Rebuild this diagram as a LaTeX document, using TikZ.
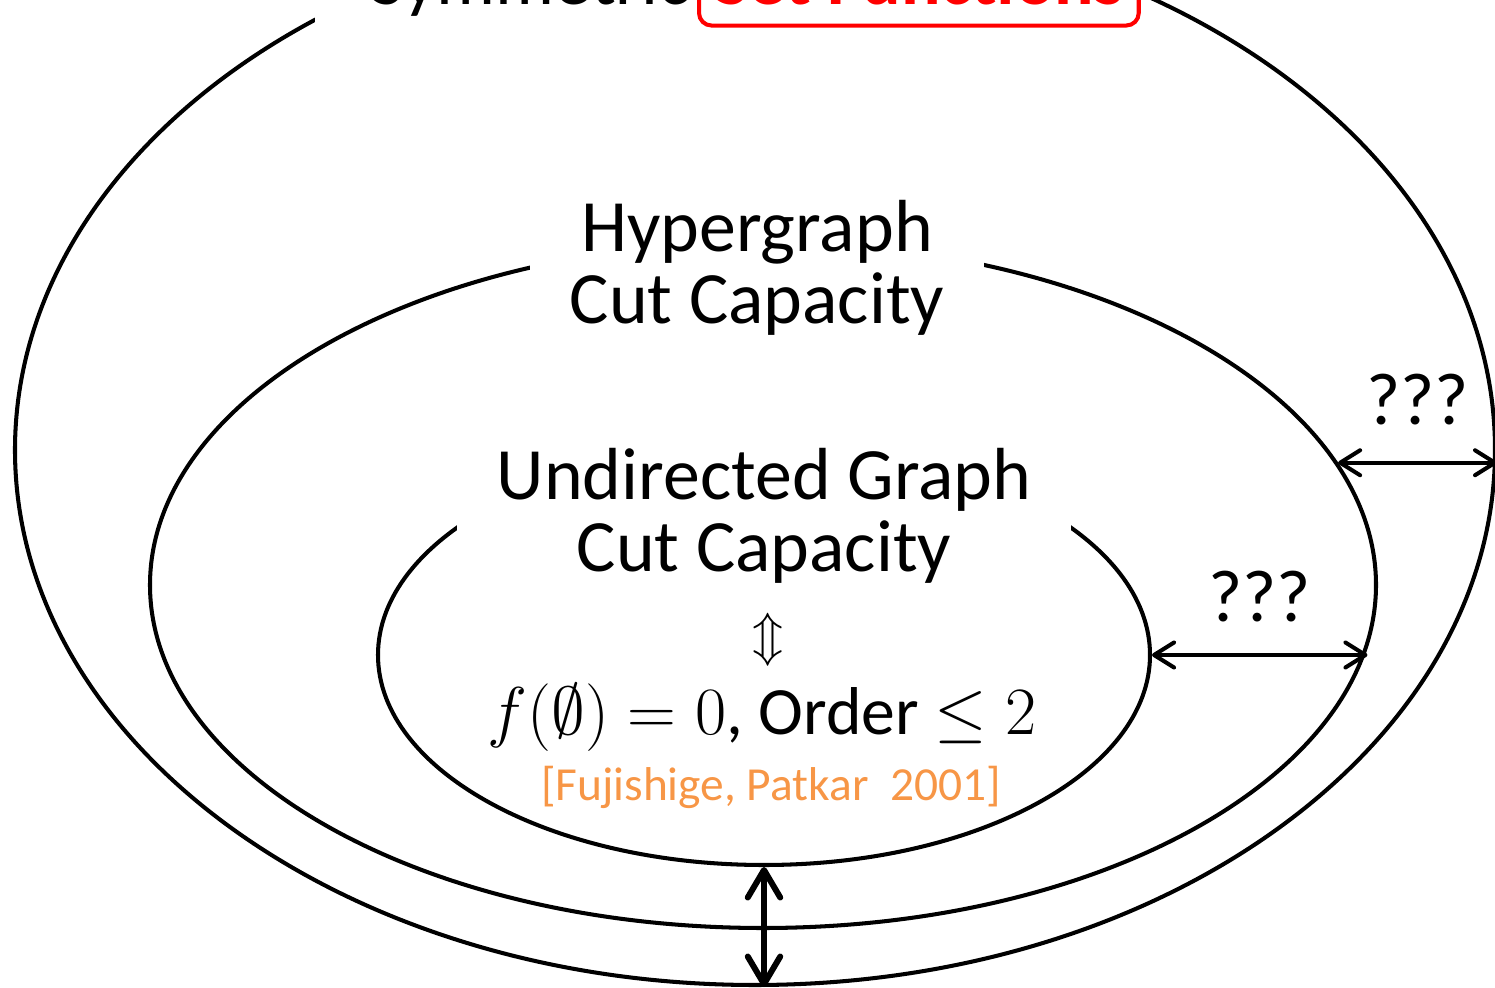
\RequirePackage{fix-cm}
\documentclass[tikz,border=0pt]{standalone}
\usepackage{amsmath,amssymb}
\usepackage{fontspec}
\setmainfont{Carlito}
\usepackage{xcolor}
\usetikzlibrary{shapes.geometric, arrows.meta, positioning}
\definecolor{citeorange}{RGB}{247,150,70}
\newcommand\ringfont{\fontsize{42}{41}\selectfont}
\newcommand\condfont{\fontsize{38.5}{41}\selectfont}
\newcommand\equivfont{\fontsize{29}{34}\selectfont}
\newcommand\citefont{\fontsize{27}{32}\selectfont}
\tikzset{
  setring/.style={
    ellipse, draw, line width=2.3pt, inner sep=0pt
  },
  classlabel/.style={
    fill=white, align=center, font=\ringfont,
    inner xsep=0.8cm, inner ysep=0.35cm
  },
  gaparrow/.style={
    {Straight Barb[round, length=4mm, width=5mm]}-{Straight Barb[round, length=4mm, width=5mm]},
    line width=2.3pt, line cap=round
  },
  bigarrow/.style={
    {Straight Barb[round, length=5.5mm, width=6.5mm]}-{Straight Barb[round, length=5.5mm, width=6.5mm]},
    line width=3.4pt, line cap=round
  },
  gaplabel/.style={font=\ringfont, inner sep=0pt},
}

\begin{document}
\begin{tikzpicture}
  \useasboundingbox (0,0) rectangle (29.9,19.74);

  % === Nested classes ===
  \node[setring, minimum width=29.6cm, minimum height=21.4cm] (outer) at (15.10, 10.74) {};
  \node[setring, minimum width=24.52cm, minimum height=13.72cm] (middle) at (15.26, 8.04) {};
  \node[setring, minimum width=15.44cm, minimum height=8.4cm] (inner) at (15.28, 6.64) {};

  % === Class names ===
  \node[font=\ringfont, fill=white, anchor=base east, inner xsep=1.1cm] (symm) at (14.9, 19.64)
    {Symmetric};
  \node[font=\ringfont\bfseries, text=red, draw=red, line width=2.3pt, rounded corners=0.25cm,
    fill=white, anchor=base west, inner xsep=0.3cm, inner ysep=0.4cm] (setfn) at (13.94, 19.64)
    {Set Functions};

  \node[classlabel] (hyper) at (15.14, 14.38) {Hypergraph\\Cut Capacity};
  \node[classlabel] (undir) at (15.28, 9.42) {Undirected Graph\\Cut Capacity};

  \node[font=\equivfont] (equiv) at (15.36, 6.94) {$\Updownarrow$};
  \node[font=\condfont] (cond) at (15.24, 5.38) {$f(\emptyset) = 0$, Order $\leq 2$};
  \node[font=\citefont, text=citeorange] (cite) at (15.42, 4.0) {[Fujishige, Patkar\ \ 2001]};

  % === Gaps ===
  \draw[bigarrow] (inner.south) -- (inner.south |- outer.south);
  \draw[gaparrow] (inner.east) -- node[gaplabel, above=0.62cm] (gap1) {???} (inner.east -| middle.-6);
  \draw[gaparrow] (middle.12) -- node[gaplabel, above=0.72cm] (gap2) {???} (middle.12 -| outer.east);

\end{tikzpicture}
\end{document}
